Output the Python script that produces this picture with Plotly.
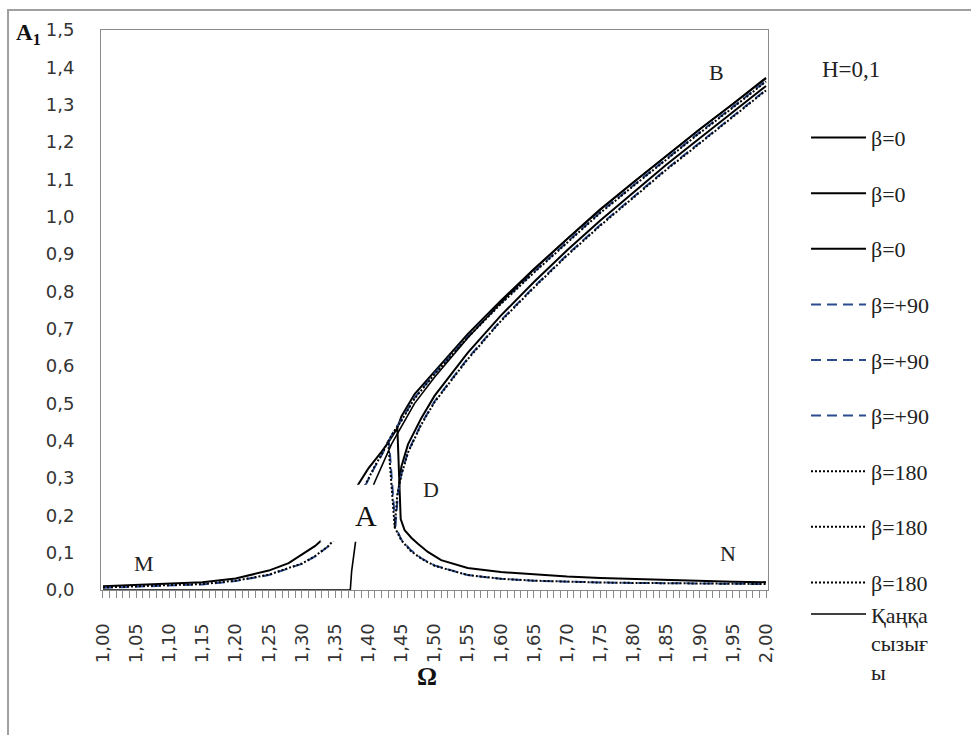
import plotly.graph_objects as go

# ---------------- data ----------------
# beta = 0 : branch 1 (rising left part, jump down, lower right part)
om0_a = [1.00, 1.05, 1.10, 1.15, 1.20, 1.25, 1.28, 1.30, 1.32, 1.34, 1.36, 1.37, 1.384, 1.40, 1.42,
         1.431, 1.444, 1.446, 1.449, 1.455, 1.465, 1.475, 1.49, 1.51, 1.55, 1.60, 1.65, 1.70, 1.75,
         1.80, 1.85, 1.90, 1.95, 2.00]
a0_a = [0.010, 0.013, 0.017, 0.021, 0.031, 0.052, 0.072, 0.095, 0.118, 0.150, 0.205, 0.235, 0.280,
        0.325, 0.370, 0.397, 0.434, 0.320, 0.190, 0.160, 0.140, 0.124, 0.102, 0.080, 0.059, 0.048,
        0.041, 0.036, 0.032, 0.029, 0.026, 0.024, 0.022, 0.021]
# beta = 0 : upper branch
om0_b = [1.444, 1.45, 1.47, 1.50, 1.55, 1.60, 1.65, 1.70, 1.75, 1.80, 1.85, 1.90, 1.95, 2.00]
a0_b = [0.434, 0.465, 0.525, 0.585, 0.685, 0.775, 0.860, 0.940, 1.020, 1.092, 1.163, 1.234, 1.302, 1.372]
# beta = 0 : middle branch
om0_c = [1.446, 1.45, 1.46, 1.48, 1.50, 1.55, 1.60, 1.65, 1.70, 1.75, 1.80, 1.85, 1.90, 1.95, 2.00]
a0_c = [0.270, 0.330, 0.390, 0.460, 0.520, 0.635, 0.735, 0.825, 0.910, 0.990, 1.065, 1.140, 1.210, 1.280, 1.350]

# beta = +90
om90_a = [1.00, 1.05, 1.10, 1.15, 1.20, 1.25, 1.28, 1.30, 1.32, 1.34, 1.36, 1.38, 1.395, 1.41, 1.42,
          1.431, 1.433, 1.436, 1.439, 1.441, 1.45, 1.464, 1.48, 1.50, 1.55, 1.60, 1.65, 1.70, 1.75,
          1.80, 1.85, 1.90, 1.95, 2.00]
a90_a = [0.006, 0.009, 0.012, 0.015, 0.024, 0.040, 0.058, 0.070, 0.090, 0.117, 0.155, 0.225, 0.280,
         0.330, 0.360, 0.400, 0.360, 0.290, 0.220, 0.170, 0.135, 0.107, 0.085, 0.066, 0.040, 0.030,
         0.025, 0.022, 0.020, 0.019, 0.018, 0.017, 0.016, 0.016]
om90_b = [1.431, 1.44, 1.45, 1.47, 1.50, 1.55, 1.60, 1.65, 1.70, 1.75, 1.80, 1.85, 1.90, 1.95, 2.00]
a90_b = [0.400, 0.430, 0.455, 0.515, 0.580, 0.678, 0.768, 0.852, 0.932, 1.012, 1.084, 1.155, 1.226, 1.294, 1.364]
om90_c = [1.441, 1.445, 1.45, 1.46, 1.48, 1.50, 1.55, 1.60, 1.65, 1.70, 1.75, 1.80, 1.85, 1.90, 1.95, 2.00]
a90_c = [0.170, 0.260, 0.310, 0.370, 0.445, 0.505, 0.620, 0.722, 0.812, 0.898, 0.978, 1.053, 1.128, 1.198, 1.268, 1.340]

# beta = 180
om180_a = [1.00, 1.05, 1.10, 1.15, 1.20, 1.25, 1.28, 1.30, 1.32, 1.34, 1.36, 1.38, 1.395, 1.41, 1.42,
           1.430, 1.432, 1.435, 1.438, 1.440, 1.45, 1.464, 1.48, 1.50, 1.55, 1.60, 1.65, 1.70, 1.75,
           1.80, 1.85, 1.90, 1.95, 2.00]
a180_a = [0.007, 0.010, 0.013, 0.016, 0.025, 0.041, 0.059, 0.071, 0.091, 0.118, 0.157, 0.227, 0.282,
          0.332, 0.362, 0.398, 0.355, 0.285, 0.215, 0.168, 0.133, 0.105, 0.084, 0.065, 0.040, 0.030,
          0.025, 0.022, 0.020, 0.019, 0.018, 0.017, 0.016, 0.016]
om180_b = [1.430, 1.44, 1.45, 1.47, 1.50, 1.55, 1.60, 1.65, 1.70, 1.75, 1.80, 1.85, 1.90, 1.95, 2.00]
a180_b = [0.398, 0.428, 0.453, 0.513, 0.578, 0.676, 0.766, 0.850, 0.930, 1.010, 1.082, 1.153, 1.224, 1.292, 1.362]
om180_c = [1.440, 1.444, 1.45, 1.46, 1.48, 1.50, 1.55, 1.60, 1.65, 1.70, 1.75, 1.80, 1.85, 1.90, 1.95, 2.00]
a180_c = [0.168, 0.258, 0.308, 0.368, 0.443, 0.503, 0.618, 0.720, 0.810, 0.896, 0.976, 1.051, 1.126, 1.196, 1.266, 1.338]

# backbone curve (Қаңқа сызығы)
om_bb = [1.00, 1.373, 1.375, 1.378, 1.381, 1.39, 1.40, 1.41, 1.42, 1.435, 1.449, 1.47, 1.50, 1.55,
         1.60, 1.65, 1.70, 1.75, 1.80, 1.85, 1.90, 1.95, 2.00]
a_bb = [0.0, 0.0, 0.050, 0.090, 0.130, 0.190, 0.245, 0.290, 0.330, 0.390, 0.434, 0.500, 0.570,
        0.675, 0.770, 0.858, 0.940, 1.018, 1.092, 1.164, 1.234, 1.302, 1.370]

x_ticks = [1.00, 1.05, 1.10, 1.15, 1.20, 1.25, 1.30, 1.35, 1.40, 1.45, 1.50,
           1.55, 1.60, 1.65, 1.70, 1.75, 1.80, 1.85, 1.90, 1.95, 2.00]
y_ticks = [0.0, 0.1, 0.2, 0.3, 0.4, 0.5, 0.6, 0.7, 0.8, 0.9, 1.0, 1.1, 1.2, 1.3, 1.4, 1.5]

name0 = "β=0"
name90 = "β=+90"
name180 = "β=180"
name_bb = "Қаңқа<br>сызығ<br>ы"

# ---------------- figure ----------------
SERIF = "Liberation Serif, DejaVu Serif, serif"
SANS = "DejaVu Sans"
BLUE = "#2a4b8d"

series = [
    (om0_a, a0_a, name0, dict(color="black", width=2, dash="solid"), "g0"),
    (om0_b, a0_b, name0, dict(color="black", width=2, dash="solid"), "g1"),
    (om0_c, a0_c, name0, dict(color="black", width=2, dash="solid"), "g2"),
    (om90_a, a90_a, name90, dict(color=BLUE, width=2, dash="10px,6px"), "g3"),
    (om90_b, a90_b, name90, dict(color=BLUE, width=2, dash="10px,6px"), "g4"),
    (om90_c, a90_c, name90, dict(color=BLUE, width=2, dash="10px,6px"), "g5"),
    (om180_a, a180_a, name180, dict(color="black", width=2, dash="2px,2px"), "g6"),
    (om180_b, a180_b, name180, dict(color="black", width=2, dash="2px,2px"), "g7"),
    (om180_c, a180_c, name180, dict(color="black", width=2, dash="2px,2px"), "g8"),
    (om_bb, a_bb, name_bb, dict(color="black", width=1.6, dash="solid"), "g8"),
]

fig = go.Figure()
for xs, ys, nm, ln, grp in series:
    fig.add_trace(go.Scatter(x=xs, y=ys, mode="lines", name=nm, line=ln,
                             legendgroup=grp, showlegend=True))

fig.update_layout(
    width=971, height=735,
    margin=dict(l=101, r=203, t=30, b=145),
    paper_bgcolor="white", plot_bgcolor="white",
    separators=", ",
    showlegend=True,
    legend=dict(
        x=1.057, y=0.845, xanchor="left", yanchor="top",
        font=dict(family=SERIF, size=22, color="#222"),
        tracegroupgap=24, itemwidth=55, valign="top",
        bgcolor="rgba(0,0,0,0)", traceorder="grouped",
        maxheight=700,
    ),
    xaxis=dict(
        range=[0.997, 2.003], tickvals=x_ticks, tickformat=".2f",
        tickangle=-90, showgrid=False, zeroline=False,
        showline=True, linecolor="#8a8a8a", linewidth=1, mirror=True,
        ticks="outside", ticklen=7, tickcolor="#8a8a8a", tickwidth=1,
        minor=dict(dtick=0.01, tick0=1.0, ticks="outside", ticklen=7,
                   tickcolor="#8a8a8a", tickwidth=1, showgrid=False),
        tickfont=dict(family=SANS, size=18, color="#333"),
        ticklabelstandoff=18,
    ),
    yaxis=dict(
        range=[0, 1.5], tickvals=y_ticks, tickformat=".1f",
        showgrid=False, zeroline=False,
        showline=True, linecolor="#8a8a8a", linewidth=1, mirror=True,
        ticks="", tickfont=dict(family=SANS, size=18, color="#333"),
        ticklabelstandoff=22,
    ),
    shapes=[
        # outer chart frame
        dict(type="rect", xref="paper", yref="paper",
             x0=-0.1394, x1=1.32, y0=-0.28, y1=1.0357,
             line=dict(color="#a0a0a0", width=2), fillcolor="rgba(0,0,0,0)", layer="below"),
        # white label box behind "A"
        dict(type="rect", xref="x", yref="y", x0=1.328, x1=1.419, y0=0.129, y1=0.282,
             line=dict(width=0), fillcolor="white", layer="above"),
    ],
    annotations=[
        dict(text="<b>A<sub>1</sub></b>", xref="paper", yref="paper", x=-0.13, y=0.992,
             xanchor="left", yanchor="middle", showarrow=False,
             font=dict(family=SERIF, size=23, color="#111")),
        dict(text="<b>Ω</b>", xref="paper", yref="paper", x=0.489, y=-0.155,
             xanchor="center", yanchor="middle", showarrow=False,
             font=dict(family=SERIF, size=25, color="#111")),
        dict(text="H=0,1", xref="paper", yref="paper", x=1.124, y=0.929,
             xanchor="center", yanchor="middle", showarrow=False,
             font=dict(family=SERIF, size=23, color="#222")),
        dict(text="M", x=1.062, y=0.072, showarrow=False,
             font=dict(family=SERIF, size=22, color="#222")),
        dict(text="N", x=1.943, y=0.099, showarrow=False,
             font=dict(family=SERIF, size=22, color="#222")),
        dict(text="B", x=1.925, y=1.385, showarrow=False,
             font=dict(family=SERIF, size=22, color="#222")),
        dict(text="D", x=1.494, y=0.268, showarrow=False,
             font=dict(family=SERIF, size=22, color="#222")),
        dict(text="A", x=1.396, y=0.200, showarrow=False,
             font=dict(family=SERIF, size=30, color="#111")),
    ],
)

fig.write_html("out.html", config={"displayModeBar": False},
               post_script="document.body.style.margin='0px';")
